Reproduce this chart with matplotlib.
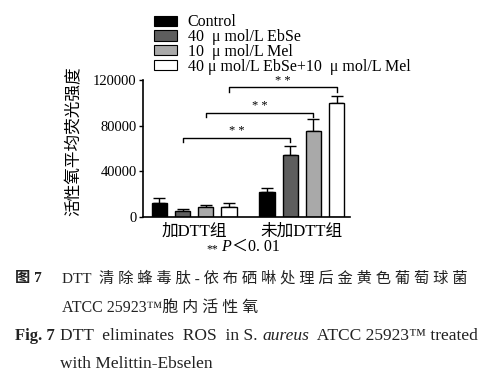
import numpy as np
import matplotlib
matplotlib.use("Agg")
import matplotlib.pyplot as plt
from matplotlib.patches import Patch

plt.rcParams['font.family'] = ['Liberation Serif', 'Noto Sans CJK SC']

groups = ["加DTT组", "未加DTT组"]
treatments = ["Control", "40  μ mol/L EbSe", "10  μ mol/L Mel", "40 μ mol/L EbSe+10  μ mol/L Mel"]
colors = ["#000000", "#5e5e5e", "#a9a9a9", "#ffffff"]

# mean fluorescence, rows = treatments, cols = groups
means = [[12000, 22000],
         [5500, 54000],
         [8500, 75000],
         [9000, 100000]]
errs = [[4500, 3500],
        [1800, 8500],
        [2200, 11000],
        [3500, 6000]]

# significance brackets: treatment index, bracket height
sig_pairs = [1, 2, 3]
sig_heights = [69500, 91500, 113500]

group_gap = 4.65
width = 0.66

fig = plt.figure(figsize=(5.01, 3.79), dpi=100)
ax = fig.add_axes([0.2854, 0.4274, 0.4132, 0.3616])

for i, name in enumerate(treatments):
    xs = np.arange(len(groups)) * group_gap + i
    ax.bar(xs, means[i], width, color=colors[i], edgecolor="black", linewidth=1.0,
           label=name, zorder=2)
    ax.errorbar(xs, means[i], yerr=[np.zeros(len(groups)), errs[i]], fmt="none",
                ecolor="black", elinewidth=1.0, capsize=4, capthick=1.0, clip_on=False, zorder=1)

drop = 4000
for i, h in zip(sig_pairs, sig_heights):
    x1 = i
    x2 = group_gap + i
    ax.plot([x1, x1, x2, x2], [h - drop, h, h, h - drop], color="black", lw=1.0, clip_on=False)
    ax.text((x1 + x2) / 2, h + 300, "* *", ha="center", va="bottom", fontsize=9)

ax.set_ylim(0, 120000)
ax.set_xlim(-0.71, group_gap + 3 + 0.58)
ax.set_yticks([0, 40000, 80000, 120000])
ax.set_xticks([])
ax.spines["top"].set_visible(False)
ax.spines["right"].set_visible(False)
ax.spines["left"].set_linewidth(1.2)
ax.spines["bottom"].set_linewidth(1.2)
ax.tick_params(axis="y", direction="out", length=3, width=1.0, labelsize=10.5, pad=1.5)
ax.set_ylabel("活性氧平均荧光强度", fontsize=12, labelpad=5)
ax.yaxis.set_label_coords(-0.29, 0.55)

for g, name in enumerate(groups):
    ax.text(g * group_gap + 1.5, -6000, name, ha="center", va="top", fontsize=12)

# legend
handles = [Patch(facecolor=c, edgecolor="black", linewidth=0.8) for c in colors]
fig.legend(handles, treatments, loc="upper left", bbox_to_anchor=(0.308, 0.962),
           frameon=False, fontsize=11.5, handlelength=1.45, handleheight=0.6,
           handletextpad=0.65, labelspacing=-0.08, borderpad=0, borderaxespad=0)

# p-value note
t1 = fig.text(0.412, 0.335, "**", fontsize=8.5, va="baseline")
t2 = plt.annotate(" P", xy=(1, 0), xycoords=t1, fontsize=11.5, style="italic", va="bottom")
plt.annotate("＜0. 01", xy=(1, 0), xycoords=t2, fontsize=11.5, va="bottom")

# caption
cap = "#222222"
fig.text(0.030, 0.255, "图 7", fontsize=11, fontweight="bold", color=cap)
fig.text(0.124, 0.255, "DTT  " + " ".join("清除蜂毒肽-依布硒啉处理后金黄色葡萄球菌"),
         fontsize=11, color=cap)
fig.text(0.124, 0.176, "ATCC 25923™" + " ".join("胞内活性氧"), fontsize=11.5, color=cap)
f1 = fig.text(0.030, 0.103, "Fig. 7", fontsize=12, fontweight="bold", color=cap)
f2 = fig.text(0.120, 0.103, "DTT  eliminates  ROS  in S. ", fontsize=12.5, color=cap)
f3 = plt.annotate("aureus", xy=(1, 0), xycoords=f2, fontsize=12.5, style="italic", color=cap, va="bottom")
plt.annotate("  ATCC 25923™ treated", xy=(1, 0), xycoords=f3, fontsize=12.5, color=cap, va="bottom")
fig.text(0.120, 0.029, "with Melittin-Ebselen", fontsize=12.5, color=cap)

fig.savefig("out.png", dpi=100)
